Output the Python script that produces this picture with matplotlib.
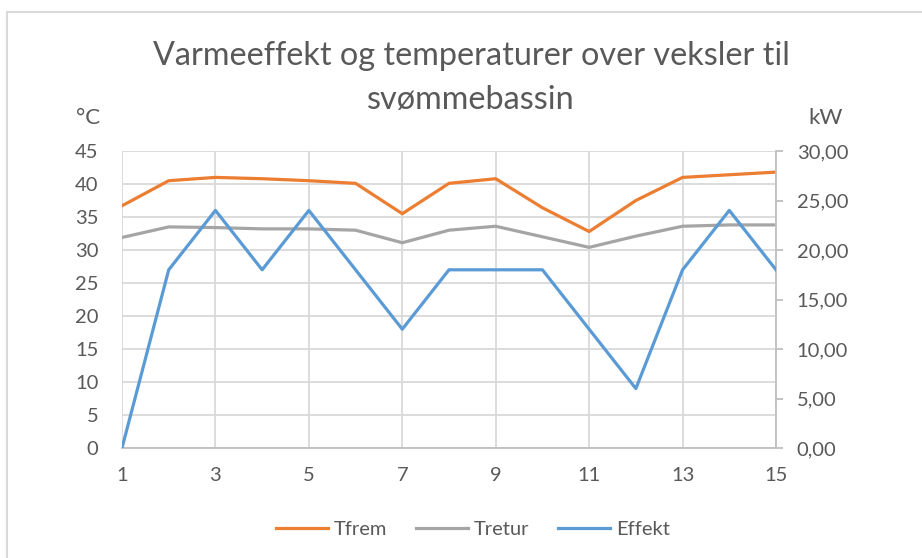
import matplotlib.pyplot as plt
import matplotlib.patches as patches

plt.rcParams['font.family'] = ['Lato', 'DejaVu Sans']

# data
x = list(range(1, 16))
tfrem = [36.7, 40.5, 41.0, 40.8, 40.5, 40.1, 35.5, 40.1, 40.8, 36.4, 32.8, 37.5, 41.0, 41.4, 41.8]
tretur = [31.9, 33.5, 33.4, 33.2, 33.2, 33.0, 31.1, 33.0, 33.6, 32.0, 30.4, 32.1, 33.6, 33.8, 33.8]
effekt = [0, 18, 24, 18, 24, 18, 12, 18, 18, 18, 12, 6, 18, 24, 18]
left_ticks = [0, 5, 10, 15, 20, 25, 30, 35, 40, 45]
right_ticks = [0, 5, 10, 15, 20, 25, 30]
x_ticks = [1, 3, 5, 7, 9, 11, 13, 15]

txt = '#595959'
grid = '#D9D9D9'

fig = plt.figure(figsize=(9.22, 5.58), dpi=100)
ax = fig.add_axes([122/922, 1-448/558, (776-122)/922, (448-151)/558])
ax2 = ax.twinx()

# outer chart border (only top/left visible in the crop)
fig.patches.append(patches.Rectangle((7/922, -0.1), 1.2, 1 - 12/558 + 0.1,
                   transform=fig.transFigure, fill=False, edgecolor='#D9D9D9', lw=1.5))

l1, = ax.plot(x, tfrem, color='#ED7D31', lw=2.3, label='Tfrem', zorder=3)
l2, = ax.plot(x, tretur, color='#A5A5A5', lw=2.3, label='Tretur', zorder=3)
l3, = ax2.plot(x, effekt, color='#5B9BD5', lw=2.3, label='Effekt', zorder=3)

ax.set_xlim(1, 15)
ax.set_ylim(0, 45)
ax2.set_ylim(0, 30)
ax.set_xticks(x_ticks)
ax.set_yticks(left_ticks)
ax2.set_yticks(right_ticks)
ax2.set_yticklabels([f'{v:.2f}'.replace('.', ',') for v in right_ticks])

ax.grid(True, color=grid, lw=1.3)
ax.set_axisbelow(True)
for s in ['top', 'left', 'right']:
    ax.spines[s].set_visible(False)
    ax2.spines[s].set_visible(False)
ax2.spines['bottom'].set_visible(False)
ax.spines['bottom'].set_color('#BFBFBF')
ax.spines['bottom'].set_linewidth(1.3)
ax2.spines['right'].set_visible(True)
ax2.spines['right'].set_color('#BFBFBF')
ax2.spines['right'].set_linewidth(1.3)

ax.tick_params(axis='x', length=0, labelsize=14.5, labelcolor=txt, pad=14)
ax.tick_params(axis='y', length=0, labelsize=14.5, labelcolor=txt, pad=17)
ax2.tick_params(axis='y', length=5, color='#BFBFBF', width=1.3, labelsize=14.5, labelcolor=txt, pad=10)

fig.text(88/922, 1-118/558, '°C', color=txt, fontsize=16, ha='center', va='center')
fig.text(826/922, 1-118/558, 'kW', color=txt, fontsize=16, ha='center', va='center')

fig.text(471/922, 1-56/558, 'Varmeeffekt og temperaturer over veksler til', color=txt,
         fontsize=23.3, ha='center', va='center')
fig.text(471/922, 1-100/558, 'svømmebassin', color=txt, fontsize=23.3, ha='center', va='center')

fig.legend(handles=[l1, l2, l3], loc='center', bbox_to_anchor=(473/922, 1-529/558), ncol=3,
           frameon=False, fontsize=14.5, labelcolor=txt, handlelength=2.6, handletextpad=0.3,
           columnspacing=1.4)

fig.savefig('out.png', dpi=100)
